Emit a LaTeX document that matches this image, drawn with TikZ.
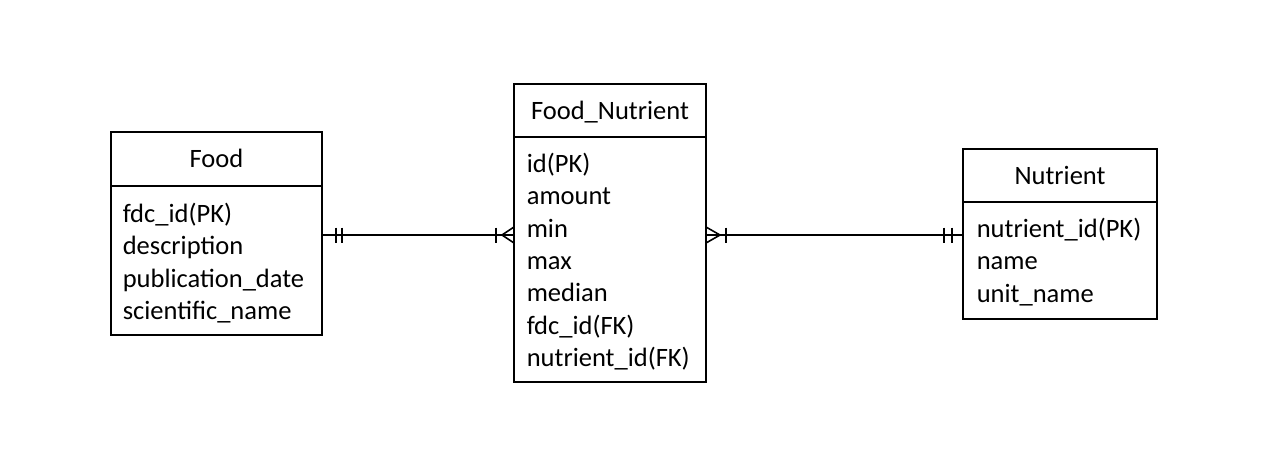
\documentclass[tikz,border=0pt]{standalone}
\usepackage{fontspec}
\setmainfont{Carlito}
\usetikzlibrary{calc}
\tikzset{every picture/.append style={x=1pt, y=-1pt, line width=1.6pt}}
\tikzset{
    entity/.style={rectangle, draw, line width=1.6pt, inner sep=0pt, outer sep=0pt},
    title/.style={font=\fontsize{26.5}{32.3}\selectfont, text height=17pt, text depth=0pt},
    attr/.style={anchor=base west, align=left, inner sep=0pt, text width=180pt,
    	font=\fontsize{26.5}{32.3}\selectfont}
}

\begin{document}
\begin{tikzpicture}
	\useasboundingbox (0,0) rectangle (1269,455);
	% tables
	\node (food) [entity, title, minimum width=211pt, minimum height=54pt] at (216.5,159) {Food};
	\node (foodbody) [entity, minimum width=211pt, minimum height=149pt, anchor=north] at (food.south) {};
	\node (foodattr) [attr] at (122,222.5) {fdc\_id(PK)\\description\\publication\_date\\scientific\_name};
	
	\node (fn) [entity, title, minimum width=192pt, minimum height=53pt] at (610,110.5) {Food\_Nutrient};
	\node (fnbody) [entity, minimum width=192pt, minimum height=245pt, anchor=north] at (fn.south) {};
	\node (fnattr) [attr] at (526,172.5) {id(PK)\\amount\\min\\max\\median\\fdc\_id(FK)\\nutrient\_id(FK)};
	
	\node (nut) [entity, title, minimum width=194pt, minimum height=53pt] at (1060,175.5) {Nutrient};
	\node (nutbody) [entity, minimum width=194pt, minimum height=117pt, anchor=north] at (nut.south) {};
	\node (nutattr) [attr] at (976,237.5) {nutrient\_id(PK)\\name\\unit\_name};
	
	% relations
	\coordinate (rel) at (0,235);
	\coordinate (fe) at (foodbody.east |- rel);
	\coordinate (fnw) at (fnbody.west |- rel);
	\coordinate (fne) at (fnbody.east |- rel);
	\coordinate (nw) at (nutbody.west |- rel);
	\draw (fe) -- (fnw);
	\draw (fne) -- (nw);
	
	\draw ($(fe)+(14,-7.5)$) -- ++(0,15); \draw ($(fe)+(20,-7.5)$) -- ++(0,15);
	\draw ($(fnw)+(-18,-7.5)$) -- ++(0,15);
	\draw ($(fnw)+(0,-8)$) -- ($(fnw)+(-12,0)$) -- ($(fnw)+(0,8)$);
	
	\draw ($(fne)+(0,-8)$) -- ($(fne)+(14,0)$) -- ($(fne)+(0,8)$);
	\draw ($(fne)+(20,-7.5)$) -- ++(0,15);
	\draw ($(nw)+(-19,-7.5)$) -- ++(0,15); \draw ($(nw)+(-11,-7.5)$) -- ++(0,15);
\end{tikzpicture}
\end{document}
